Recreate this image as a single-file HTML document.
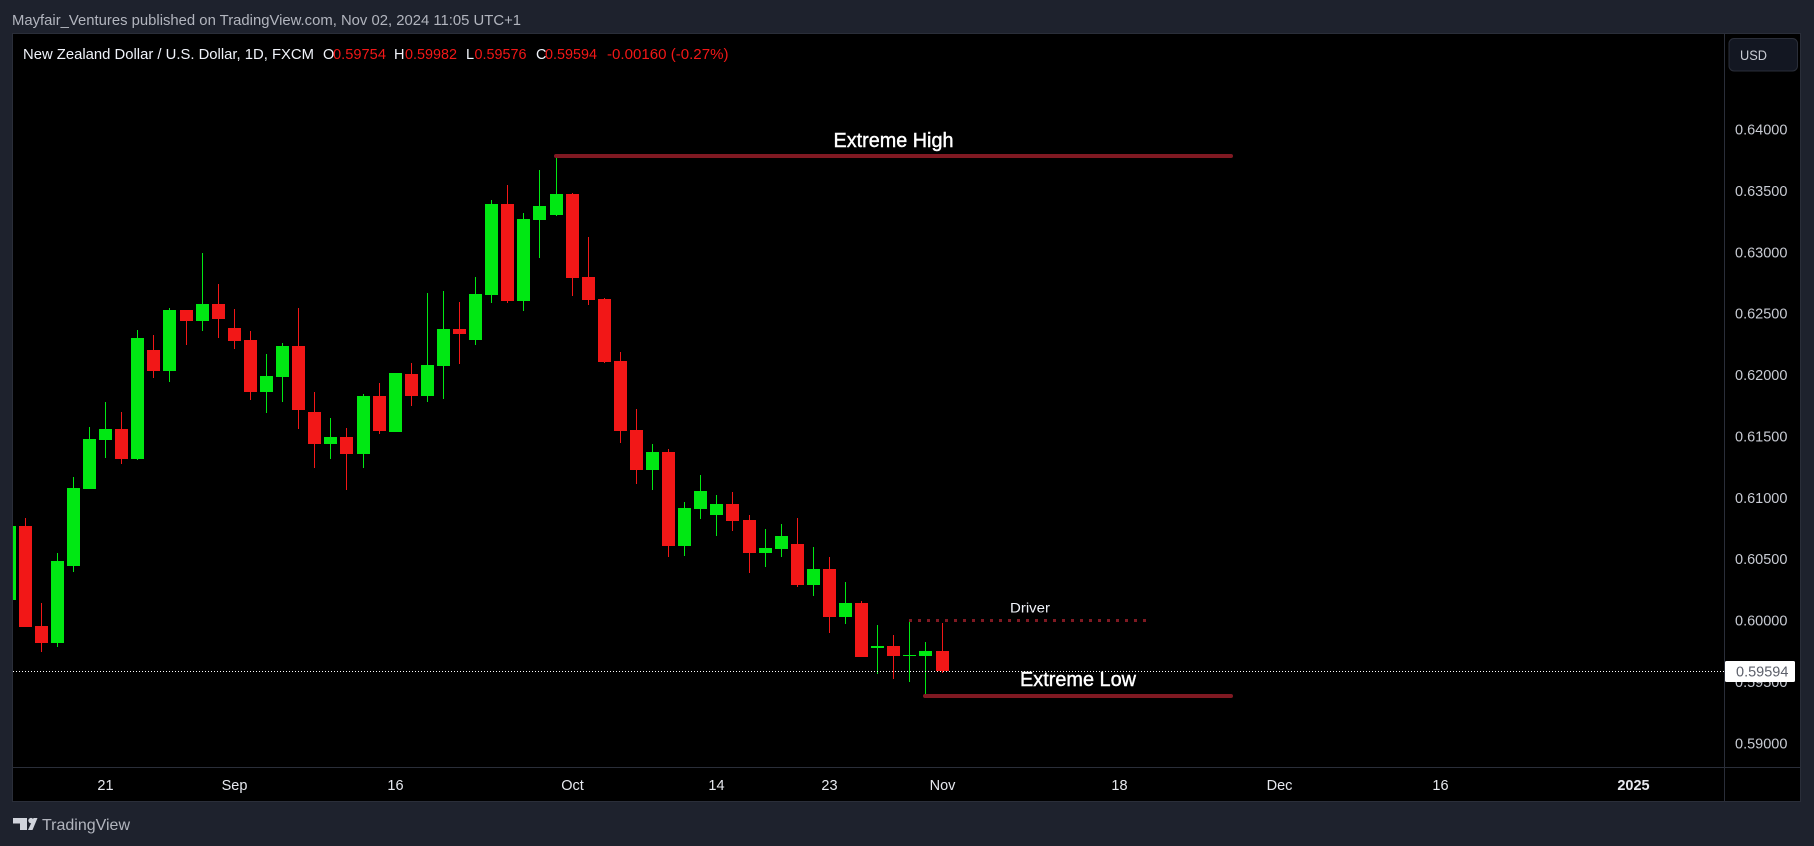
<!DOCTYPE html>
<html lang="en">
<head>
<meta charset="utf-8">
<title>NZD/USD daily chart</title>
<style>
  html, body { margin: 0; padding: 0; background: #1e222d; width: 1814px; height: 846px; overflow: hidden; }
  svg { display: block; font-family: "Liberation Sans", sans-serif; }
  .legend { font-size: 14.5px; fill: #f21717; }
  .legend-w { font-size: 14.5px; fill: #f0f3fa; }
  .price { font-size: 14.5px; fill: #c8cbd3; }
  .time { font-size: 14.5px; fill: #e6e8ee; }
</style>
</head>
<body>
<svg id="chart" xmlns="http://www.w3.org/2000/svg" width="1814" height="846" viewBox="0 0 1814 846">
  <defs>
    <clipPath id="pane-clip"><rect x="13" y="34" width="1711" height="733"/></clipPath>
  </defs>
  <rect x="0" y="0" width="1814" height="846" fill="#1e222d"/>
  <text x="12" y="25" font-size="14.5" fill="#b2b5be" textLength="509" lengthAdjust="spacingAndGlyphs">Mayfair_Ventures published on TradingView.com, Nov 02, 2024 11:05 UTC+1</text>

  <rect x="12.5" y="33.5" width="1788" height="768" fill="#000" stroke="#2a2e39" stroke-width="1"/>
  <line x1="1724.5" y1="34" x2="1724.5" y2="801" stroke="#2a2e39"/>
  <line x1="13" y1="767.5" x2="1801" y2="767.5" stroke="#2a2e39"/>

  <g id="price-ticks"></g>
  <g id="time-ticks"></g>
  <g id="pane" clip-path="url(#pane-clip)">
    <g id="candles" shape-rendering="crispEdges"></g>
    <g id="drawings"></g>
    <line id="last-line" x1="13" x2="1724" stroke="#fff" stroke-width="1" stroke-dasharray="1 2" shape-rendering="crispEdges"/>
  </g>
  <g id="last-tag"></g>

  <g>
    <text class="legend-w" x="23" y="59" textLength="291" lengthAdjust="spacingAndGlyphs">New Zealand Dollar / U.S. Dollar, 1D, FXCM</text>
    <text class="legend-w" x="323" y="59">O</text>
    <text class="legend" x="333" y="59" textLength="53" lengthAdjust="spacingAndGlyphs">0.59754</text>
    <text class="legend-w" x="394" y="59">H</text>
    <text class="legend" x="405" y="59" textLength="52" lengthAdjust="spacingAndGlyphs">0.59982</text>
    <text class="legend-w" x="466" y="59">L</text>
    <text class="legend" x="474.5" y="59" textLength="52" lengthAdjust="spacingAndGlyphs">0.59576</text>
    <text class="legend-w" x="536" y="59">C</text>
    <text class="legend" x="545" y="59" textLength="52" lengthAdjust="spacingAndGlyphs">0.59594</text>
    <text class="legend" x="607" y="59" textLength="121.5" lengthAdjust="spacingAndGlyphs">-0.00160 (-0.27%)</text>
  </g>

  <g>
    <rect x="1729" y="38.5" width="68.5" height="32.5" rx="5" fill="#131722" stroke="#2a2e39"/>
    <text x="1740" y="60" font-size="14" fill="#c8cbd3" textLength="27" lengthAdjust="spacingAndGlyphs">USD</text>
  </g>

  <g>
    <path d="M13 818H27V830H20V823.5H13Z" fill="#d1d4dc"/>
    <circle cx="31" cy="820.6" r="2.7" fill="#d1d4dc"/>
    <polygon points="33.5,818 37.5,818 32.5,830 28,830" fill="#d1d4dc"/>
    <text x="42" y="830" font-size="16" fill="#b2b5be" textLength="88" lengthAdjust="spacingAndGlyphs">TradingView</text>
  </g>
</svg>

<script>
// Daily candles, first entry is the bar cut off by the left edge of the pane.
const opens = [0.60171,0.60774,0.59960,0.59821,0.60448,0.61076,0.61475,0.61564,0.61320,0.62208,0.62037,0.62534,0.62444,0.62583,0.62387,0.62289,0.61866,0.61988,0.62240,0.61703,0.61442,0.61499,0.61361,0.61833,0.61540,0.62012,0.61833,0.62078,0.62379,0.62289,0.62656,0.63397,0.62607,0.63267,0.63308,0.63479,0.62803,0.62623,0.62118,0.61556,0.61230,0.61377,0.60611,0.60913,0.60864,0.60953,0.60823,0.60554,0.60587,0.60628,0.60294,0.60424,0.60033,0.60147,0.59780,0.59797,0.59715,0.59715,0.59754];
const highs = [0.60774,0.60839,0.60147,0.60554,0.61173,0.61581,0.61784,0.61703,0.62371,0.62330,0.62550,0.62534,0.62998,0.62746,0.62542,0.62363,0.62175,0.62265,0.62550,0.61866,0.61654,0.61572,0.61849,0.61939,0.62021,0.62102,0.62672,0.62688,0.62599,0.62803,0.63430,0.63552,0.63324,0.63674,0.63788,0.63487,0.63128,0.62631,0.62192,0.61727,0.61442,0.61401,0.60970,0.61190,0.61027,0.61051,0.60864,0.60750,0.60790,0.60839,0.60603,0.60522,0.60318,0.60163,0.59968,0.59886,0.60008,0.59829,0.59982];
const lows = [0.60171,0.59951,0.59748,0.59789,0.60399,0.61076,0.61328,0.61279,0.61312,0.61980,0.61947,0.62249,0.62363,0.62306,0.62216,0.61801,0.61695,0.61784,0.61564,0.61247,0.61320,0.61067,0.61247,0.61524,0.61540,0.61752,0.61784,0.61809,0.62094,0.62249,0.62591,0.62591,0.62526,0.62957,0.63299,0.62648,0.62574,0.62102,0.61450,0.61116,0.61067,0.60522,0.60530,0.60831,0.60693,0.60733,0.60391,0.60440,0.60522,0.60277,0.60204,0.59903,0.59976,0.59707,0.59569,0.59528,0.59503,0.59389,0.59576];
const closes = [0.60774,0.59951,0.59821,0.60489,0.61084,0.61483,0.61564,0.61320,0.62306,0.62037,0.62534,0.62444,0.62583,0.62460,0.62281,0.61866,0.61996,0.62240,0.61719,0.61442,0.61499,0.61361,0.61833,0.61548,0.62021,0.61833,0.62086,0.62379,0.62338,0.62664,0.63397,0.62607,0.63275,0.63381,0.63479,0.62794,0.62615,0.62110,0.61548,0.61230,0.61377,0.60611,0.60921,0.61059,0.60953,0.60815,0.60554,0.60595,0.60693,0.60294,0.60424,0.60033,0.60147,0.59707,0.59797,0.59715,0.59723,0.59756,0.59594];
const priceTicks = [0.64,0.635,0.63,0.625,0.62,0.615,0.61,0.605,0.6,0.595,0.59];
const timeTickLabels = ["21","Sep","16","Oct","14","23","Nov","18","Dec","16","2025"];
const timeTickBars = [6,14,24,35,44,51,58,69,79,89,101];
const lastPrice = 0.59594;
const extremeHighPrice = 0.63788;
const extremeLowPrice = 0.59389;
const driverPrice = 0.60008;
const extremeHighBars = [34,76];
const extremeLowBars = [57,76];
const driverBars = [56,70.75];

const NS = 'http://www.w3.org/2000/svg';
function yScale(price) { return 130 + (0.64 - price) * 12276; }
function xScale(bar) { return Math.floor(9.14 + 16.085 * bar); }
function make(tag, parent, props) {
  const el = document.createElementNS(NS, tag);
  for (const k in props) el.setAttribute(k, props[k]);
  parent.appendChild(el);
  return el;
}

const GREEN = '#00e813', RED = '#f21717', DRAW = '#801922';

const candleGroup = document.getElementById('candles');
opens.forEach(function (open, i) {
  const close = closes[i];
  const color = close >= open ? GREEN : RED;
  const cx = xScale(i);
  const g = make('g', candleGroup, {});
  
  
  const hy = Math.round(yScale(highs[i]));
  const ly = Math.round(yScale(lows[i]));
  const wick = make('rect', g, { x: cx, y: hy, width: 1, height: Math.max(1, ly - hy), fill: color });
  
  
  const top = Math.round(yScale(Math.max(open, close)));
  const bottom = Math.round(yScale(Math.min(open, close)));
  const body = make('rect', g, { x: cx - 6, y: top, width: 13, height: Math.max(1, bottom - top), fill: color });
  
  
});

const priceGroup = document.getElementById('price-ticks');
priceTicks.forEach(function (p) {
  const t = make('text', priceGroup, { x: 1735, y: yScale(p) + 4.5, 'class': 'price' });
  
  
  t.textContent = p.toFixed(5);
});

const timeGroup = document.getElementById('time-ticks');
timeTickLabels.forEach(function (label, i) {
  const t = make('text', timeGroup, { x: xScale(timeTickBars[i]) + 0.5, y: 790, 'class': 'time', 'text-anchor': 'middle' });
  
  
  if (label === '2025') { t.setAttribute('font-weight', 'bold'); t.setAttribute('fill', '#fff'); }
  t.textContent = label;
});

const drawGroup = document.getElementById('drawings');
const hy = yScale(extremeHighPrice);
const highLine = make('line', drawGroup, { x1: xScale(extremeHighBars[0]), x2: xScale(extremeHighBars[1]), y1: hy, y2: hy, stroke: DRAW, 'stroke-width': 4, 'stroke-linecap': 'round' });


const highText = make('text', drawGroup, { x: (xScale(extremeHighBars[0]) + xScale(extremeHighBars[1])) / 2, y: hy - 9, 'text-anchor': 'middle', 'font-size': 20, fill: '#fff', stroke: '#fff', 'stroke-width': 0.4, textLength: 120, lengthAdjust: 'spacingAndGlyphs' });


highText.textContent = 'Extreme High';

const ly = yScale(extremeLowPrice);
const lowLine = make('line', drawGroup, { x1: xScale(extremeLowBars[0]), x2: xScale(extremeLowBars[1]), y1: ly, y2: ly, stroke: DRAW, 'stroke-width': 4, 'stroke-linecap': 'round' });


const lowText = make('text', drawGroup, { x: (xScale(extremeLowBars[0]) + xScale(extremeLowBars[1])) / 2, y: ly - 10, 'text-anchor': 'middle', 'font-size': 20, fill: '#fff', stroke: '#fff', 'stroke-width': 0.4, textLength: 116, lengthAdjust: 'spacingAndGlyphs' });


lowText.textContent = 'Extreme Low';

const dy = Math.round(yScale(driverPrice)) + 0.5;
const driverLine = make('line', drawGroup, { x1: xScale(driverBars[0]), x2: 9.14 + 16.085 * driverBars[1], y1: dy, y2: dy, stroke: DRAW, 'stroke-width': 3, 'stroke-dasharray': '3 6' });


const driverText = make('text', drawGroup, { x: 1030, y: dy - 8, 'text-anchor': 'middle', 'font-size': 14, fill: '#f0f3fa', textLength: 40, lengthAdjust: 'spacingAndGlyphs' });


driverText.textContent = 'Driver';

const lastY = Math.round(yScale(lastPrice)) + 0.5;
const lastLine = document.getElementById('last-line');
lastLine.setAttribute('y1', lastY);
lastLine.setAttribute('y2', lastY);

const tag = document.getElementById('last-tag');
const tagBox = make('rect', tag, { x: 1725, y: lastY - 10.5, width: 70, height: 21, rx: 1.5, fill: '#fff' });


const tagText = make('text', tag, { x: 1736, y: lastY + 5, 'font-size': 14.5, fill: '#5d606b' });


tagText.textContent = lastPrice.toFixed(5);
</script>
</body>
</html>
